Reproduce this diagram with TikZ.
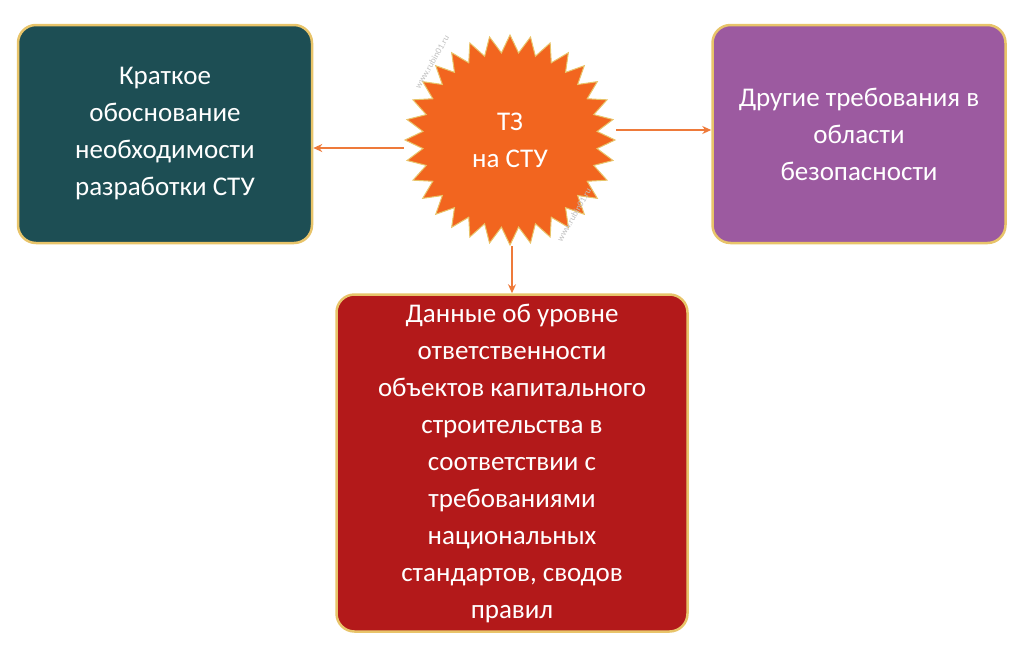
\documentclass[tikz,border=0pt]{standalone}
\usepackage{fontspec}
\setmainfont{Carlito}
\usetikzlibrary{shapes.geometric, arrows.meta}
\definecolor{tealbox}{HTML}{1D4E54}
\definecolor{purplebox}{HTML}{9C5AA0}
\definecolor{redbox}{HTML}{B3191A}
\definecolor{starorange}{HTML}{F2651F}
\definecolor{glow}{HTML}{E8C46A}
\definecolor{arrowc}{HTML}{EE7A3A}
\tikzset{
    infobox/.style={rectangle, rounded corners=18pt, draw=glow, line width=2.5pt, text=white, align=center, inner sep=0pt, font=\fontsize{27}{37}\selectfont},
    arrow/.style={-{Stealth[length=9pt, width=8pt]}, draw=arrowc, line width=1.8pt},
    wmark/.style={text=gray!50, font=\fontsize{9}{10}\selectfont}
}
\begin{document}
\begin{tikzpicture}[x=1pt, y=-1pt]
    \useasboundingbox (0,0) rectangle (1024,654);

    % Boxes
    \node[infobox, fill=tealbox, minimum width=294pt, minimum height=218pt] (reason) at (165,134) {Краткое\\обоснование\\необходимости\\разработки СТУ};
    \node[infobox, fill=purplebox, minimum width=293pt, minimum height=218pt] (safety) at (859,134) {Другие требования в\\области\\безопасности};
    \node[infobox, fill=redbox, minimum width=351pt, minimum height=337pt] (data) at (512,463) {Данные об уровне\\ответственности\\объектов капитального\\строительства в\\соответствии с\\требованиями\\национальных\\стандартов, сводов\\правил};

    % Star
    \node[star, star points=32, star point ratio=1.2, fill=starorange, draw=glow, line width=1pt, minimum size=210pt, inner sep=0pt, text=white, align=center, font=\fontsize{27}{37}\selectfont] (tz) at (510,140) {ТЗ\\на СТУ};

    % Connections
    \draw[arrow] (tz.west |- 0,148) -- (reason.east |- 0,148);
    \draw[arrow] (tz.east |- 0,130) -- (safety.west |- 0,130);
    \draw[arrow] (tz.south -| 512,0) -- (data.north -| 512,0);

    % Watermarks
    \node[wmark, rotate=60] (wm1) at (432,62) {www.rubin01.ru};
    \node[wmark, rotate=60] (wm2) at (574,215) {www.rubin01.ru};
\end{tikzpicture}
\end{document}
